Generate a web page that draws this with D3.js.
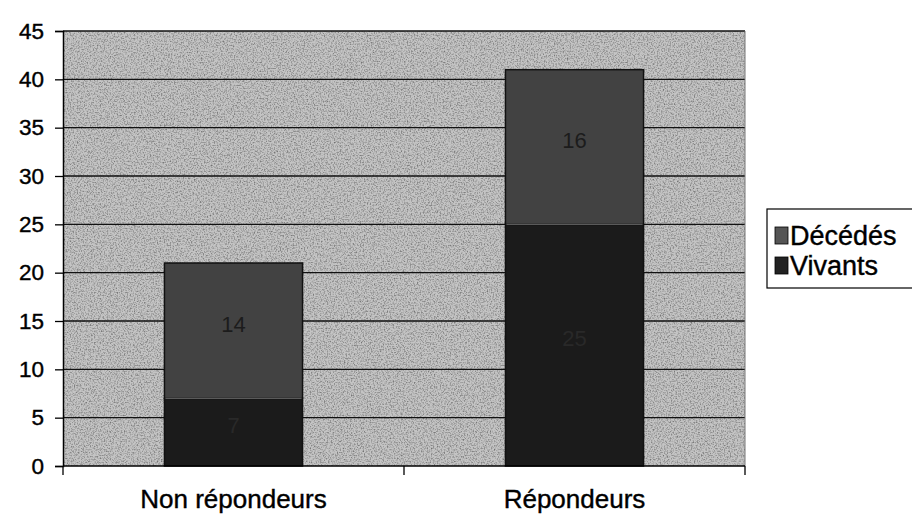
<!DOCTYPE html>
<html>
<head>
<meta charset="utf-8">
<script src="https://cdn.jsdelivr.net/npm/d3@7"></script>
<style>
  body { margin: 0; background: #fff; }
  svg { display: block; font-family: "Liberation Sans", Arial, sans-serif; }
</style>
</head>
<body>
<svg id="chart"></svg>
<script>
const categories = ["Non répondeurs", "Répondeurs"];
const vivants = [7, 25];
const decedes = [14, 16];
const seriesNames = ["Vivants", "Décédés"];
const yTicks = [0, 5, 10, 15, 20, 25, 30, 35, 40, 45];

const W = 912, H = 514;
const margin = { top: 31, right: 167, bottom: 48, left: 63 };
const innerW = W - margin.left - margin.right;
const innerH = H - margin.top - margin.bottom;

const svg = d3.select("#chart")
  .attr("width", W)
  .attr("height", H)
  .attr("viewBox", `0 0 ${W} ${H}`);

// grainy texture like the scanned original
const defs = svg.append("defs");
const grain = defs.append("filter").attr("id", "grain")
  .attr("x", 0).attr("y", 0).attr("width", 1).attr("height", 1);
grain.append("feTurbulence")
  .attr("type", "fractalNoise").attr("baseFrequency", 0.7)
  .attr("numOctaves", 2).attr("seed", 3).attr("result", "noise");
grain.append("feColorMatrix").attr("in", "noise").attr("type", "matrix")
  .attr("values", "0 0 0 0 0  0 0 0 0 0  0 0 0 0 0  0 0 0 -2.2 1.25")
  .attr("result", "dots");
grain.append("feComposite").attr("in", "dots").attr("in2", "SourceGraphic")
  .attr("operator", "in");

const g = svg.append("g").attr("transform", `translate(${margin.left},${margin.top})`);

const x = d3.scaleBand().domain(categories).range([0, innerW]).paddingInner(0.595).paddingOuter(0.2975);
const y = d3.scaleLinear().domain([0, 45]).range([innerH, 0]);

// plot background
g.append("rect").attr("width", innerW).attr("height", innerH).attr("fill", "#c4c4c4");
g.append("rect").attr("width", innerW).attr("height", innerH).attr("fill", "#707070")
  .attr("filter", "url(#grain)").attr("opacity", 0.42);

// gridlines
g.selectAll(".grid")
  .data(yTicks.filter(d => d > 0))
  .enter().append("line")
  .attr("x1", 0).attr("x2", innerW)
  .attr("y1", d => y(d)).attr("y2", d => y(d))
  .attr("stroke", "#111").attr("stroke-width", 1.3);

// right border
g.append("line").attr("x1", innerW).attr("x2", innerW).attr("y1", 0).attr("y2", innerH)
  .attr("stroke", "#777").attr("stroke-width", 1);

// stacked bars
const rows = categories.map((c, i) => ({ cat: c, Vivants: vivants[i], "Décédés": decedes[i] }));
const stack = d3.stack().keys(seriesNames)(rows);
const fills = { "Vivants": "#1b1b1b", "Décédés": "#424242" };
const textFills = { "Vivants": "#292929", "Décédés": "#1c1c1c" };

stack.forEach(layer => {
  g.selectAll(null)
    .data(layer)
    .enter().append("rect")
    .attr("x", d => x(d.data.cat))
    .attr("y", d => y(d[1]))
    .attr("width", x.bandwidth())
    .attr("height", d => y(d[0]) - y(d[1]))
    .attr("fill", fills[layer.key])
    .attr("stroke", "#111").attr("stroke-width", 1.5);

  g.selectAll(null)
    .data(layer)
    .enter().append("text")
    .attr("x", d => x(d.data.cat) + x.bandwidth() / 2)
    .attr("y", d => y((d[0] + d[1]) / 2))
    .attr("dy", "0.05em")
    .attr("text-anchor", "middle")
    .attr("font-size", 22)
    .attr("fill", textFills[layer.key])
    .text(d => d[1] - d[0]);
});

// divider between stacked segments (thin light line seen in the scan)
g.selectAll(null)
  .data(stack[0])
  .enter().append("line")
  .attr("x1", d => x(d.data.cat) + 1).attr("x2", d => x(d.data.cat) + x.bandwidth() - 1)
  .attr("y1", d => y(d[1])).attr("y2", d => y(d[1]))
  .attr("stroke", "#6a6a6a").attr("stroke-width", 1);

// y axis
const yAxis = g.append("g")
  .call(d3.axisLeft(y).tickValues(yTicks).tickSize(8).tickPadding(11));
yAxis.select(".domain").attr("stroke", "#000").attr("stroke-width", 1.5);
yAxis.selectAll(".tick line").attr("stroke", "#000").attr("stroke-width", 1.3);
yAxis.selectAll(".tick text").attr("font-size", 22.5).attr("fill", "#000")
  .attr("stroke", "#000").attr("stroke-width", 0.4)
  .attr("font-family", "Liberation Sans, Arial, sans-serif");

// x axis: category boundary ticks
const xAxis = g.append("g").attr("transform", `translate(0,${innerH})`);
xAxis.append("line").attr("x1", 0).attr("x2", innerW).attr("stroke", "#000").attr("stroke-width", 1.5);
const bounds = [0, ...categories.map((c, i) => (i + 1) * innerW / categories.length)];
xAxis.selectAll(".bt")
  .data(bounds)
  .enter().append("line")
  .attr("x1", d => d).attr("x2", d => d).attr("y1", 0).attr("y2", 9)
  .attr("stroke", "#000").attr("stroke-width", 1.3);
xAxis.selectAll(".cl")
  .data(categories)
  .enter().append("text")
  .attr("x", d => x(d) + x.bandwidth() / 2)
  .attr("y", 42)
  .attr("text-anchor", "middle")
  .attr("font-size", 26)
  .attr("fill", "#000")
  .attr("stroke", "#000").attr("stroke-width", 0.4)
  .text(d => d);

// legend
const legend = svg.append("g").attr("transform", "translate(767,209)");
legend.append("rect").attr("width", 150).attr("height", 79)
  .attr("fill", "#fff").attr("stroke", "#000").attr("stroke-width", 1.2);
const legendItems = ["Décédés", "Vivants"];
const legendSwatch = { "Décédés": "#555", "Vivants": "#222" };
legendItems.forEach((k, i) => {
  const row = legend.append("g").attr("transform", `translate(0,${27 + i * 30})`);
  row.append("rect").attr("x", 8).attr("y", -9).attr("width", 13).attr("height", 17)
    .attr("fill", legendSwatch[k]).attr("stroke", "#000").attr("stroke-width", 0.8);
  row.append("text").attr("x", 23).attr("y", 0).attr("dy", "0.35em")
    .attr("font-size", 27).attr("fill", "#000")
    .attr("stroke", "#000").attr("stroke-width", 0.4)
    .text(k);
});
</script>
</body>
</html>
